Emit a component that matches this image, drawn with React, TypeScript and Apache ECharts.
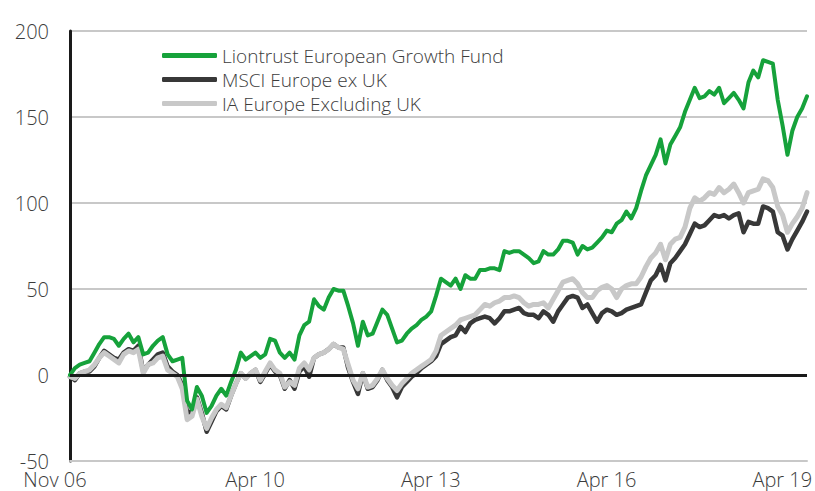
import React, { useEffect, useRef } from "react";
import * as echarts from "echarts";

const seriesNames = ["Liontrust European Growth Fund", "MSCI Europe ex UK", "IA Europe Excluding UK"];
const colors = ["#16a23b", "#383838", "#c8c8c8"];

// Monthly, Nov 06 .. Jun 19
const liontrust = [
  0, 4, 6, 7, 8, 13, 18, 22, 22, 21, 17, 21, 24, 19, 22, 12, 13, 17, 20, 22,
  12, 8, 9, 10, -15, -20, -7, -12, -22, -18, -12, -8, -12, -4, 3, 13, 9, 11, 13, 10,
  12, 21, 20, 13, 10, 13, 9, 23, 29, 31, 44, 40, 38, 45, 50, 49, 49, 40, 30, 17,
  31, 23, 24, 31, 38, 35, 27, 19, 20, 24, 27, 29, 32, 34, 37, 46, 56, 54, 52, 56,
  50, 58, 56, 56, 61, 61, 62, 62, 61, 72, 71, 72, 72, 70, 68, 65, 66, 72, 70, 70,
  73, 78, 78, 77, 70, 75, 73, 74, 77, 80, 84, 83, 88, 90, 95, 91, 97, 107, 116, 122,
  128, 137, 123, 134, 139, 144, 153, 160, 167, 161, 162, 165, 163, 167, 158, 161, 164, 160, 155, 170,
  177, 173, 183, 182, 181, 160, 145, 128, 142, 150, 155, 162,
];
const msci = [
  -1, -3, 1, 2, 2, 5, 10, 14, 12, 10, 9, 13, 15, 14, 17, 2, 6, 9, 12, 13,
  5, 2, 0, -6, -22, -21, -13, -22, -33, -27, -21, -18, -20, -12, -5, 1, -2, 1, 3, -4,
  1, 6, 2, 0, -8, -3, -8, 2, 5, -1, 10, 12, 13, 15, 18, 16, 16, 4, -4, -11,
  1, -8, -7, -3, 3, -3, -7, -13, -7, -4, -1, 1, 4, 6, 8, 11, 18, 20, 22, 23,
  28, 25, 30, 32, 33, 34, 33, 30, 33, 37, 37, 38, 39, 36, 35, 35, 33, 37, 35, 31,
  37, 41, 45, 46, 45, 39, 41, 36, 31, 36, 38, 37, 35, 36, 38, 39, 40, 41, 48, 55,
  58, 64, 55, 65, 68, 72, 76, 82, 88, 86, 87, 90, 93, 92, 93, 91, 93, 94, 83, 89,
  88, 88, 98, 97, 95, 83, 81, 73, 79, 84, 89, 95,
];
const iaEurope = [
  -1, -2, 1, 2, 3, 6, 10, 13, 11, 9, 7, 12, 14, 13, 15, 1, 6, 7, 10, 11,
  3, 1, -1, -8, -26, -24, -14, -24, -31, -25, -20, -17, -19, -12, -5, 1, -2, 1, 3, -3,
  2, 7, 3, 1, -7, -4, -6, 4, 7, 3, 10, 12, 13, 15, 18, 16, 15, 6, -3, -8,
  1, -7, -6, -2, 3, -2, -6, -9, -5, -2, 1, 3, 5, 7, 9, 14, 23, 25, 27, 29,
  32, 33, 34, 35, 38, 41, 40, 42, 43, 45, 45, 46, 45, 42, 40, 41, 41, 42, 39, 44,
  49, 54, 55, 56, 53, 48, 45, 45, 49, 51, 52, 50, 45, 50, 52, 53, 53, 57, 63, 68,
  71, 76, 67, 76, 79, 80, 86, 97, 103, 101, 103, 106, 105, 109, 106, 108, 111, 106, 100, 106,
  107, 108, 114, 113, 109, 98, 93, 83, 88, 92, 97, 106,
];

const tickLabels = ["Nov 06", "Apr 10", "Apr 13", "Apr 16", "Apr 19"];

const monthNames = ["Jan", "Feb", "Mar", "Apr", "May", "Jun", "Jul", "Aug", "Sep", "Oct", "Nov", "Dec"];
const categories: string[] = liontrust.map((_, i) => {
  const m = (10 + i) % 12;
  const y = 2006 + Math.floor((10 + i) / 12);
  return monthNames[m] + " " + String(y % 100).padStart(2, "0");
});

const FONT = "'Open Sans', sans-serif";

export default function App() {
  const ref = useRef<HTMLDivElement>(null);
  useEffect(() => {
    if (!ref.current) return;
    const chart = echarts.init(ref.current, undefined, { renderer: "svg" });
    const datasets = [liontrust, msci, iaEurope];
    const widths = [4, 4.5, 5];
    const zs = [4, 2, 3];
    chart.setOption({
      animation: false,
      backgroundColor: "#ffffff",
      grid: { left: 70, right: 8, top: 31, bottom: 30, containLabel: false, outerBoundsMode: "none" },
      legend: {
        orient: "vertical",
        left: 157,
        top: 41,
        itemWidth: 55,
        itemHeight: 5,
        itemGap: 5,
        icon: "roundRect",
        data: seriesNames,
        textStyle: { fontFamily: FONT, fontWeight: 300, fontSize: 19, color: "#3c3c3c", lineHeight: 19 },
      },
      xAxis: {
        type: "category",
        data: categories,
        boundaryGap: false,
        axisLine: { show: true, onZero: false, lineStyle: { color: "#c8c8c8", width: 2 } },
        axisTick: { show: false },
        splitLine: { show: false },
        axisLabel: {
          interval: (idx: number, val: string) => tickLabels.includes(val),
          hideOverlap: false,
          margin: 8,
          formatter: (val: string) => "{t|" + val + "}{s|}",
          rich: {
            t: { fontFamily: FONT, fontWeight: 300, fontSize: 20, color: "#3c3c3c" },
            s: { width: 30 },
          },
          fontFamily: FONT,
          fontSize: 20,
          color: "#3c3c3c",
        },
      },
      yAxis: {
        type: "value",
        min: -50,
        max: 200,
        interval: 50,
        axisLine: { show: true, lineStyle: { color: "#1a1a1a", width: 3 } },
        axisTick: { show: false },
        splitLine: { show: true, lineStyle: { color: "#c8c8c8", width: 2 } },
        axisLabel: {
          margin: 21,
          fontFamily: FONT,
          fontWeight: 300,
          fontSize: 20,
          color: "#3c3c3c",
        },
      },
      series: seriesNames.map((name, k) => ({
        name,
        type: "line",
        data: datasets[k],
        symbol: "none",
        z: zs[k],
        lineStyle: { color: colors[k], width: widths[k], join: "round", cap: "round" },
        itemStyle: { color: colors[k] },
        markLine:
          k === 1
            ? {
                silent: true,
                symbol: "none",
                label: { show: false },
                lineStyle: { color: "#1a1a1a", width: 3, type: "solid" },
                data: [{ yAxis: 0 }],
              }
            : undefined,
      })),
    });
    return () => chart.dispose();
  }, []);
  return <div ref={ref} style={{ width: 815, height: 491, position: "absolute", left: 0, top: 0 }} />;
}
